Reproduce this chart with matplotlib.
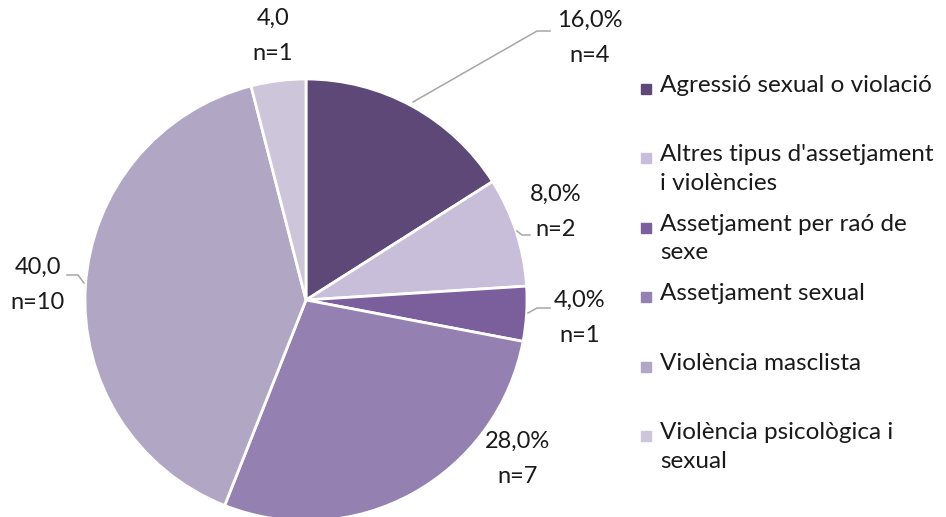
import matplotlib
matplotlib.use("Agg")
import matplotlib.pyplot as plt

categories = ["Agressió sexual o violació", "Altres tipus d'assetjament i violències",
              "Assetjament per raó de sexe", "Assetjament sexual",
              "Violència masclista", "Violència psicològica i sexual"]
legend_labels = ["Agressió sexual o violació", "Altres tipus d'assetjament\ni violències",
                 "Assetjament per raó de\nsexe", "Assetjament sexual",
                 "Violència masclista", "Violència psicològica i\nsexual"]
counts = [4, 2, 1, 7, 10, 1]
pct_labels = ["16,0%", "8,0%", "4,0%", "28,0%", "40,0", "4,0"]
colors = ["#5E4877", "#C9BEDA", "#7B5E9C", "#9581B1", "#B1A7C5", "#CDC5DA"]

plt.rcParams['font.family'] = ['Lato', 'DejaVu Sans']
W, H = 946, 517
fig = plt.figure(figsize=(W/100, H/100), dpi=100)
cx, cy, r = 306, 300, 221
ax = fig.add_axes([(cx-r)/W, (H-(cy+r))/H, 2*r/W, 2*r/H])

ax.pie(counts, colors=colors, startangle=90, counterclock=False, radius=1,
       wedgeprops=dict(edgecolor='white', linewidth=2.0))
ax.set_xlim(-1, 1); ax.set_ylim(-1, 1)
ax.set_aspect('equal')
ax.axis('off')

def d(px, py):
    return ((px-cx)/r, (cy-py)/r)

label_pos = [(590, 38), (556, 212), (580, 318), (518, 459), (38, 285), (273, 36)]
for lab, n, (px, py) in zip(pct_labels, counts, label_pos):
    x, y = d(px, py)
    ax.text(x, y, f"{lab}\nn={n}", ha='center', va='center', fontsize=17,
            color='#1a1a1a', linespacing=1.8, clip_on=False)

leaders = [[(413, 102), (537, 31), (550, 31)],
           [(517, 231), (522, 235), (530, 235)],
           [(528, 313), (537, 308), (550, 308)],
           [(67, 275), (78, 275), (84, 283)]]
for pts in leaders:
    xs, ys = zip(*[d(*p) for p in pts])
    ax.plot(xs, ys, color='#A6A6A6', lw=1.1, clip_on=False)

# legend
y0, step = 89, 69.4
for i, (lab, col) in enumerate(zip(legend_labels, colors)):
    py = y0 + i*step
    fig.patches.append(plt.Rectangle(((641)/W, (H-py-5)/H), 10/W, 10/H,
                                     transform=fig.transFigure, color=col, figure=fig))
    fig.text(660/W, (H-py+14)/H, lab, ha='left', va='top', fontsize=17.5,
             color='#1a1a1a', linespacing=1.45)

fig.savefig("out.png", dpi=100)
